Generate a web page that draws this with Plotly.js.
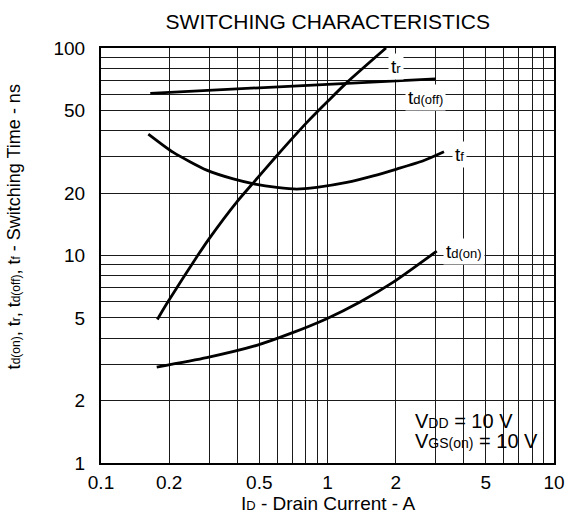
<!DOCTYPE html>
<html>
<head>
<meta charset="utf-8">
<script src="https://cdn.plot.ly/plotly-3.0.1.min.js"></script>
<style>html,body{margin:0;padding:0;background:#fff;}#chart{width:571px;height:525px;}</style>
</head>
<body>
<div id="chart"></div>
<script>
// ---- data (ID in A, time in ns) ----
const tdoff_x = [0.165, 3.0];
const tdoff_y = [60.5, 71];

const tr_x = [0.1773, 0.195, 0.2689, 0.2977, 0.3973, 0.4786, 0.5865, 0.6831, 0.8094, 1.0, 1.216, 1.813];
const tr_y = [4.92, 5.86, 10.1, 11.9, 18.1, 22.9, 29.6, 35.7, 43.7, 55.2, 68.1, 100];

const tf_x = [0.1618, 0.2086, 0.2929, 0.3837, 0.4786, 0.5968, 0.7311, 0.896, 1.216, 1.593, 2.021, 2.649, 3.268];
const tf_y = [38.5, 31.4, 25.8, 23.4, 22.1, 21.3, 20.9, 21.3, 22.5, 24.2, 26.1, 28.6, 31.6];

const tdon_x = [0.1762, 0.2929, 0.4869, 0.6831, 0.992, 1.392, 1.952, 3.035];
const tdon_y = [2.90, 3.22, 3.69, 4.20, 4.96, 5.97, 7.44, 10.49];

// axis tick values
const xTickVals = [0.1, 0.2, 0.5, 1, 2, 5, 10];
const xTickText = ['0.1', '0.2', '0.5', '1', '2', '5', '10'];
const xMinorVals = [0.3, 0.4, 0.6, 0.7, 0.8, 0.9, 3, 4, 6, 7, 8, 9];
const yTickVals = [1, 2, 5, 10, 20, 50, 100];
const yTickText = ['1', '2', '5', '10', '20', '50', '100'];
const yMinorVals = [3, 4, 6, 7, 8, 9, 30, 40, 60, 70, 80, 90];

// small-text helper (same baseline, smaller size, like the datasheet)
const sm = (s, px) => '<span style="font-size:' + px + 'px">' + s + '</span>';

// curve labels
const curveLabels = ['t' + sm('r', 13), 't' + sm('d(off)', 13), 't' + sm('f', 13), 't' + sm('d(on)', 13)];
const labelX = [1.85, 2.2, 3.53, 3.225];
const labelY = [81, 57.7, 30.8, 10.4];

const FONT = 'Liberation Sans, Arial, sans-serif';
const lineStyle = {color: '#000', width: 2.8, shape: 'spline', smoothing: 0.6};

const traces = [
  {x: tdoff_x, y: tdoff_y, mode: 'lines', line: {color: '#000', width: 2.8}, name: 'td(off)'},
  {x: tr_x, y: tr_y, mode: 'lines', line: lineStyle, name: 'tr'},
  {x: tf_x, y: tf_y, mode: 'lines', line: lineStyle, name: 'tf'},
  {x: tdon_x, y: tdon_y, mode: 'lines', line: lineStyle, name: 'td(on)'}
];

const annotations = curveLabels.map((t, i) => ({
  x: Math.log10(labelX[i]), y: Math.log10(labelY[i]), xref: 'x', yref: 'y',
  text: t, showarrow: false, xanchor: 'left', yanchor: 'middle',
  bgcolor: '#fff', borderpad: 2, font: {family: FONT, size: 19, color: '#000'}
}));

annotations.push(
  {x: Math.log10(2.385), y: Math.log10(1.6), xref: 'x', yref: 'y', xanchor: 'left', yanchor: 'middle',
   text: 'V' + sm('DD', 14) + ' = 10 V', showarrow: false, font: {family: FONT, size: 20, color: '#000'}},
  {x: Math.log10(2.385), y: Math.log10(1.27), xref: 'x', yref: 'y', xanchor: 'left', yanchor: 'middle',
   text: 'V' + sm('GS(on)', 14) + ' = 10 V', showarrow: false, font: {family: FONT, size: 20, color: '#000'}},
  {x: -0.19, y: 0.57, xref: 'paper', yref: 'paper', textangle: -90, xanchor: 'center', yanchor: 'middle',
   text: 't' + sm('d(on)', 12) + ', t' + sm('r', 12) + ', t' + sm('d(off)', 12) + ', t' + sm('f', 12) + ' - Switching Time - ns',
   showarrow: false, font: {family: FONT, size: 18, color: '#000'}},
  {x: 0.5, y: -0.097, xref: 'paper', yref: 'paper', xanchor: 'center', yanchor: 'middle',
   text: 'I' + sm('D', 13) + ' - Drain Current - A', showarrow: false, font: {family: FONT, size: 19, color: '#000'}}
);

const gridCol = '#1a1a1a';
const layout = {
  width: 571, height: 525,
  margin: {l: 101, r: 17, t: 48, b: 62},
  paper_bgcolor: '#fff', plot_bgcolor: '#fff',
  showlegend: false,
  title: {text: 'SWITCHING CHARACTERISTICS', x: 0.574, xanchor: 'center', y: 0.958, yanchor: 'middle',
          yref: 'container', font: {family: FONT, size: 21, color: '#000'}},
  xaxis: {type: 'log', range: [-1, 1], tickvals: xTickVals, ticktext: xTickText,
          showgrid: true, gridcolor: gridCol, gridwidth: 1, ticks: '', ticklabelstandoff: 1,
          showline: true, mirror: true, linecolor: '#000', linewidth: 2, zeroline: false,
          minor: {tickvals: xMinorVals, showgrid: true, gridcolor: gridCol, gridwidth: 1, ticks: ''},
          tickfont: {family: FONT, size: 19, color: '#000'}, fixedrange: true},
  yaxis: {type: 'log', range: [0, 2], tickvals: yTickVals, ticktext: yTickText,
          showgrid: true, gridcolor: gridCol, gridwidth: 1, ticks: '', ticklabelstandoff: 10,
          showline: true, mirror: true, linecolor: '#000', linewidth: 2, zeroline: false,
          minor: {tickvals: yMinorVals, showgrid: true, gridcolor: gridCol, gridwidth: 1, ticks: ''},
          tickfont: {family: FONT, size: 19, color: '#000'}, fixedrange: true},
  shapes: [
    {type: 'rect', layer: 'between', xref: 'x', yref: 'y',
     xsizemode: 'pixel', ysizemode: 'pixel', xanchor: 2, yanchor: 2,
     x0: 1, x1: 170, y0: -1, y1: -80,
     fillcolor: '#fff', line: {width: 0}}
  ],
  annotations: annotations
};

Plotly.newPlot('chart', traces, layout, {displayModeBar: false, staticPlot: true});
</script>
</body>
</html>
